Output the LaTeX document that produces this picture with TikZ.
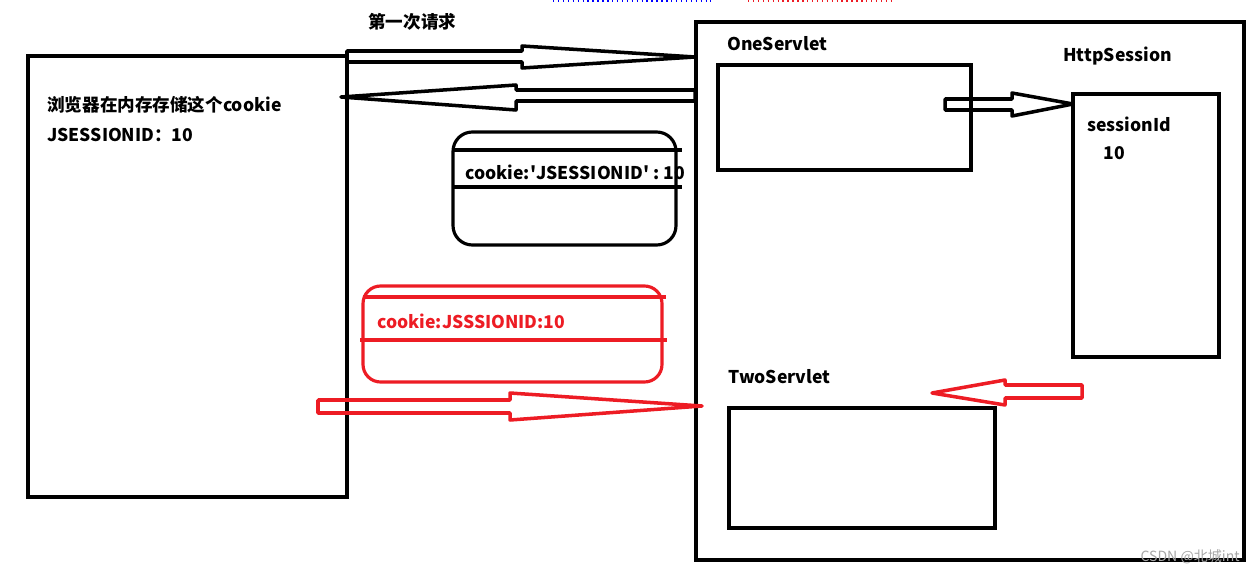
\documentclass[tikz,border=0pt]{standalone}
\usepackage{fontspec}
\setmainfont{Noto Sans CJK SC}
\usetikzlibrary{positioning}
\definecolor{paintred}{RGB}{237,28,36}

\begin{document}
\begin{tikzpicture}[x=0.02cm,y=-0.02cm,
	lbl/.style={anchor=west,inner sep=0pt,font=\bfseries\fontsize{10}{12}\selectfont},
	box/.style={draw,line width=1.8pt},
	hollow/.style={line width=2pt,line join=round}]
	\useasboundingbox (0,0) rectangle (1256,574);
	% dotted marks at the top
	\draw[blue,dotted,line width=0.8pt] (553,1) -- (711,1);
	\draw[paintred,dotted,line width=0.8pt] (748,1) -- (895,1);
	% browser
	\draw[box] (28,56) rectangle (347,497);
	\node[lbl] (store) at (47,105) {浏览器在内存存储这个cookie};
	\node[lbl] (jsid) at (47,135) {JSESSIONID：10};
	\node[lbl] (first) at (368,22) {第一次请求};
	% server
	\draw[line width=2.3pt] (696,22) rectangle (1244,560);
	\node[lbl] (one) at (727,44) {OneServlet};
	\draw[box] (718,65) rectangle (971,170);
	\node[lbl] (http) at (1063,56) {HttpSession};
	\draw[box] (1073,94) rectangle (1219,357);
	\node[lbl] (sid) at (1087,124) {sessionId};
	\node[lbl] (sidval) at (1103,153) {10};
	\node[lbl] (two) at (728,377) {TwoServlet};
	\draw[box] (729,408) rectangle (995,528);
	% cookie sent back
	\node[lbl] (ck) at (465,172) {cookie:\textquotesingle JSESSIONID\textquotesingle{} : 10};
	\draw[box,rounded corners=11pt] (453,132) rectangle (676,245);
	\draw[box] (453,150) -- (682,150);
	\draw[box] (453,187) -- (682,187);
	% cookie carried along
	\begin{scope}[paintred]
		\node[lbl,text=paintred] (ckred) at (377,321) {cookie:JSSSIONID:10};
		\draw[box,rounded corners=10pt] (363,286) rectangle (662,382);
		\draw[box] (363,297) -- (666,297);
		\draw[box] (360,340) -- (667,340);
	\end{scope}
	% block arrows
	\draw[hollow] (347,51) -- (522,51) -- (522,46) -- (695,57) -- (522,68) -- (522,62) -- (347,62) -- cycle;
	\draw[hollow] (695,90) -- (516,90) -- (516,85) -- (341,97) -- (516,110) -- (516,101) -- (695,101) -- cycle;
	\draw[hollow] (945,99) -- (1012,99) -- (1012,93) -- (1073,104) -- (1012,116) -- (1012,110) -- (945,110) -- cycle;
	\draw[hollow,paintred] (318,400) -- (510,400) -- (510,393) -- (702,406) -- (510,420) -- (510,413) -- (318,413) -- cycle;
	\draw[hollow,paintred] (1082,385) -- (1005,385) -- (1005,380) -- (932,393) -- (1005,405) -- (1005,398) -- (1082,398) -- cycle;
	% watermark
	\node[anchor=east,inner sep=0pt,text=black!35,font=\fontsize{8}{10}\selectfont] (mark) at (1240,557) {CSDN @北城int};
\end{tikzpicture}
\end{document}
